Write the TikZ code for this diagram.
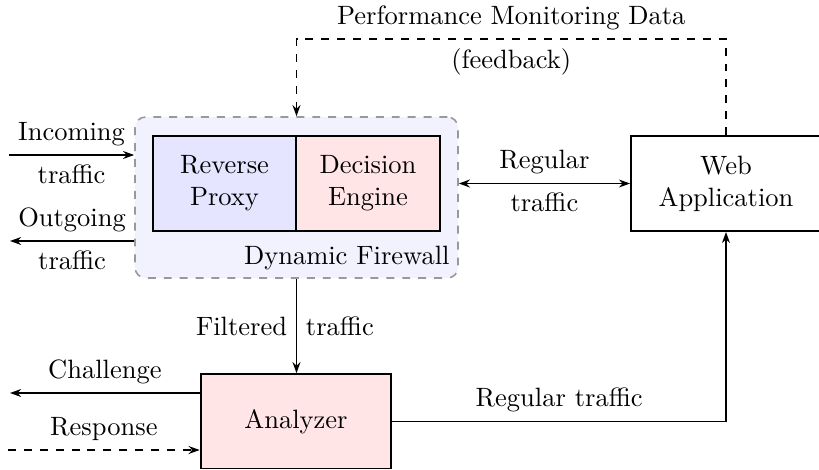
\documentclass[tikz,border=0pt]{standalone}
\usetikzlibrary{arrows.meta}
\begin{document}
\begin{tikzpicture}[x=0.37736pt,y=-0.37736pt,
  box/.style={draw, line width=0.7pt, inner sep=2pt, align=center, minimum height=35.85pt},
  arr/.style={line width=0.5pt, -{Stealth[length=4.2pt,width=3pt]}},
  darr/.style={line width=0.5pt, {Stealth[length=4.2pt,width=3pt]}-{Stealth[length=4.2pt,width=3pt]}},
  fwbox/.style={draw=black!40, dashed, line width=0.6pt, fill=blue!5, rounded corners=4pt}]
\useasboundingbox (0,0) rectangle (819,470);
% firewall container
\node[fwbox, minimum width=121.9pt, minimum height=60.75pt] (fw) at (296.5,197.5) {};
\node[box, fill=blue!10, minimum width=54pt] (rp) at (224.5,183.5) {Reverse\\Proxy};
\node[box, fill=red!10, minimum width=54.3pt] (de) at (368,183.5) {Decision\\Engine};
\node[anchor=south east, inner sep=3.3pt] (fwl) at (fw.south east) {Dynamic Firewall};
% web application
\node[box, minimum width=71.7pt] (web) at (726,183.5) {Web\\Application};
% analyzer
\node[box, fill=red!10, minimum width=72pt, minimum height=35.6pt] (an) at (296,421.3) {Analyzer};
% free ends
\coordinate (inL) at (9,155);
\coordinate (outL) at (10,241);
\coordinate (chL) at (10,393);
\coordinate (reL) at (8,450);
\coordinate (fbtop) at (0,39);
% incoming / outgoing
\draw[arr] (inL) -- node[above]{Incoming} node[below]{traffic} (inL -| fw.west);
\draw[arr] (outL -| fw.west) -- node[above]{Outgoing} node[below]{traffic} (outL);
% regular traffic firewall <-> web
\draw[darr] (fw.east |- web.west) -- node[above]{Regular} node[below]{traffic} (web.west);
% feedback
\draw[arr, dashed] (web.north) -- (web.north |- fbtop)
  -- node[above]{Performance Monitoring Data} node[below]{(feedback)} (fw.north |- fbtop)
  -- (fw.north);
% filtered traffic
\draw[arr] (fw.south) -- node[left]{Filtered} node[right]{traffic} (fw.south |- an.north);
% challenge / response
\draw[arr] (chL -| an.west) -- node[above]{Challenge} (chL);
\draw[arr, dashed] (reL) -- node[above]{Response} (reL -| an.west);
% analyzer -> web
\draw[arr] (an.east) -- node[above]{Regular traffic} (an.east -| web.south) -- (web.south);
\end{tikzpicture}
\end{document}
